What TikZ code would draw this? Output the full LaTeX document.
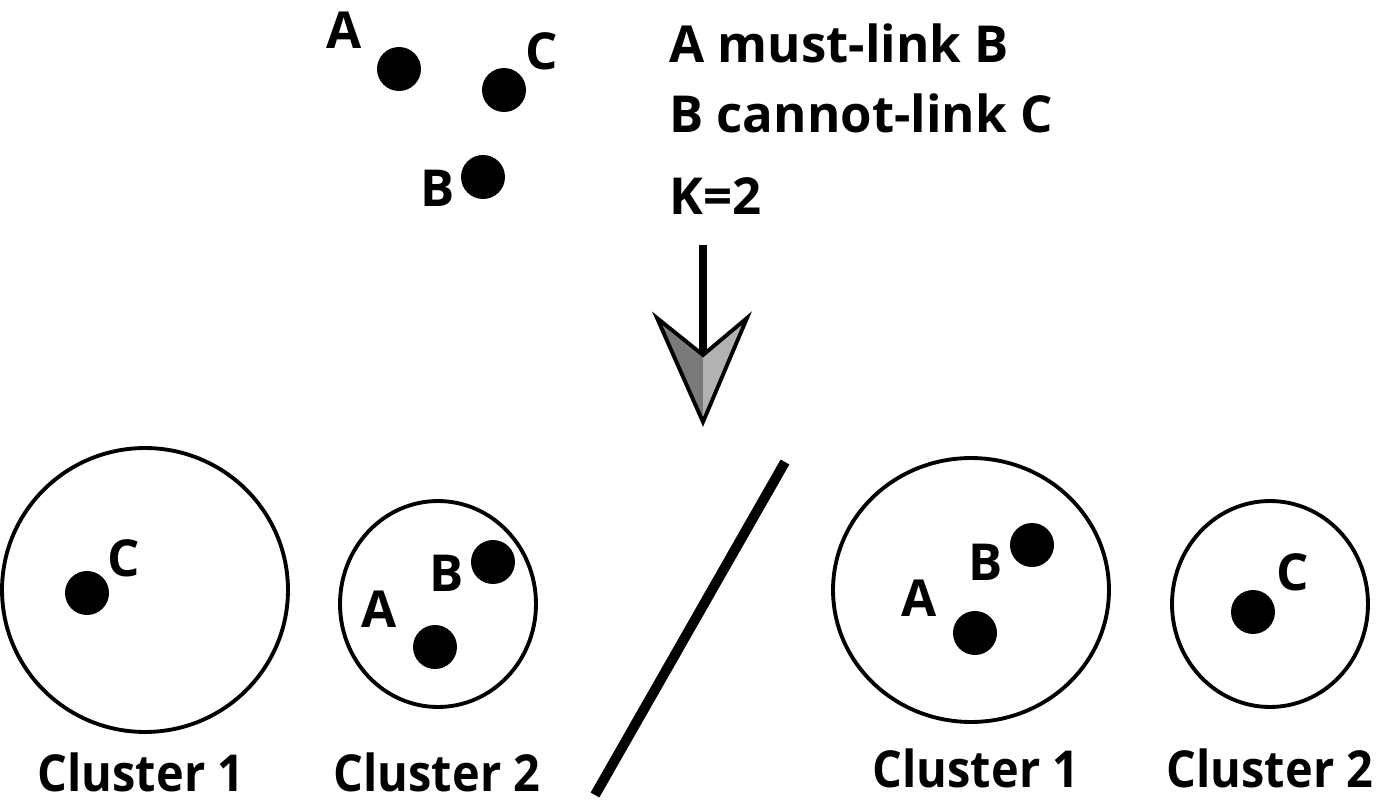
\documentclass[tikz,border=0pt]{standalone}
\usepackage{fontspec}
\setmainfont{Open Sans}
\usetikzlibrary{shapes.geometric}

\begin{document}
\begin{tikzpicture}[x=0.02cm,y=-0.02cm,
 dot/.style={circle,fill=black,inner sep=0pt,minimum size=0.88cm},
 lbl/.style={inner sep=0pt,font=\fontsize{29}{35}\selectfont\bfseries},
 rule/.style={inner sep=0pt,anchor=base west,font=\fontsize{29}{35}\selectfont\bfseries},
 cluster/.style={ellipse,draw=black,line width=2.2pt,inner sep=0pt},
 cname/.style={inner sep=0pt,anchor=base,xscale=0.92,font=\fontsize{29}{35}\selectfont\bfseries}]
\useasboundingbox (0,0) rectangle (1377,804);
% input points and constraints
\node[dot] (a) at (399,69) {};
\node[dot] (c) at (504,90) {};
\node[dot] (b) at (483,177) {};
\node[lbl] (alab) at (344,30) {A};
\node[lbl] (clab) at (542,51) {C};
\node[lbl] (blab) at (438,188) {B};
\node[rule] (must) at (669,63) {A must-link B};
\node[rule] (cannot) at (669,133) {B cannot-link C};
\node[rule] (k) at (669,215) {K=2};
% big arrow
\coordinate (arrtop) at (703,245);
\coordinate (notch) at (703,355);
\coordinate (tip) at (703,422);
\coordinate (wingl) at (657,318);
\coordinate (wingr) at (747,318);
\draw[line width=4pt] (arrtop) -- (notch);
\fill[black!52] (wingl) -- (notch) -- (tip) -- cycle;
\fill[black!30] (wingr) -- (notch) -- (tip) -- cycle;
\draw[line width=2.2pt,line join=miter] (wingl) -- (notch) -- (wingr) -- (tip) -- cycle;
% left: invalid result
\node[cluster,minimum width=5.72cm,minimum height=5.68cm] (l1) at (145,590) {};
\node[dot] (lc) at (87,593) {};
\node[lbl] (lclab) at (124,558) {C};
\node[cluster,minimum width=3.92cm,minimum height=4.12cm] (l2) at (438,604) {};
\node[dot] (lb) at (493,562) {};
\node[dot] (la) at (435,647) {};
\node[lbl] (lblab) at (447,573) {B};
\node[lbl] (lalab) at (379,609) {A};
\node[cname] (l1name) at (141,791) {Cluster 1};
\node[cname] (l2name) at (437,791) {Cluster 2};
% separator
\coordinate (s1) at (785,462);
\coordinate (s2) at (595,795);
\draw[line width=5.7pt] (s1) -- (s2);
% right: valid result
\node[cluster,minimum width=5.52cm,minimum height=5.28cm] (r1) at (971,590) {};
\node[dot] (rb) at (1032,545) {};
\node[dot] (ra) at (975,633) {};
\node[lbl] (rblab) at (986,562) {B};
\node[lbl] (ralab) at (919,598) {A};
\node[cluster,minimum width=3.92cm,minimum height=4.12cm] (r2) at (1270,604) {};
\node[dot] (rc) at (1253,612) {};
\node[lbl] (rclab) at (1293,572) {C};
\node[cname] (r1name) at (976,787) {Cluster 1};
\node[cname] (r2name) at (1270,787) {Cluster 2};
\end{tikzpicture}
\end{document}
